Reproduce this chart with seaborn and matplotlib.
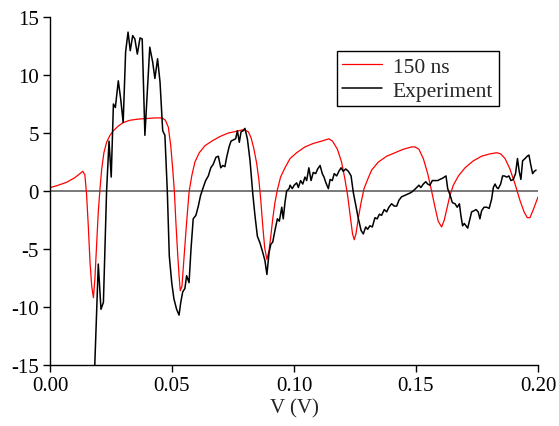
import matplotlib
matplotlib.use("Agg")
import matplotlib.pyplot as plt
import seaborn as sns
import pandas as pd

# ---- data ----
sim_label = "150 ns"
exp_label = "Experiment"
x_label = "V (V)"
x_ticks = [0.00, 0.05, 0.10, 0.15, 0.20]
x_tick_labels = ["0.00", "0.05", "0.10", "0.15", "0.20"]
y_ticks = [-15, -10, -5, 0, 5, 10, 15]
y_tick_labels = ["-15", "-10", "-5", "0", "5", "10", "15"]

sim_v = [0.0, 0.0002, 0.0027, 0.0068, 0.0102, 0.0123, 0.0134, 0.0143, 0.0150, 0.0157,
         0.0164, 0.0171, 0.0178, 0.0184, 0.0191, 0.0198, 0.0205, 0.0212, 0.0221, 0.0232,
         0.0246, 0.0260, 0.0280, 0.0300, 0.0328, 0.0362, 0.0396, 0.0430, 0.0460, 0.0473,
         0.0485, 0.0495, 0.0503, 0.0510, 0.0516, 0.0523, 0.0529, 0.0534, 0.0541, 0.0546,
         0.0553, 0.0560, 0.0570, 0.0581, 0.0594, 0.0612, 0.0635, 0.0663, 0.0697, 0.0731,
         0.0765, 0.0795, 0.0813, 0.0824, 0.0835, 0.0847, 0.0856, 0.0864, 0.0872, 0.0880,
         0.0889, 0.0898, 0.0905, 0.0913, 0.0922, 0.0932, 0.0945, 0.0963, 0.0984, 0.1011,
         0.1045, 0.1079, 0.1113, 0.1143, 0.1158, 0.1178, 0.1195, 0.1209, 0.1220, 0.1232,
         0.1240, 0.1247, 0.1254, 0.1264, 0.1275, 0.1287, 0.1302, 0.1318, 0.1346, 0.1380,
         0.1414, 0.1448, 0.1482, 0.1496, 0.1512, 0.1530, 0.1548, 0.1564, 0.1578, 0.1591,
         0.1605, 0.1616, 0.1628, 0.1639, 0.1653, 0.1674, 0.1701, 0.1735, 0.1769, 0.1803,
         0.1831, 0.1847, 0.1865, 0.1885, 0.1906, 0.1926, 0.1943, 0.1956, 0.1967, 0.1981,
         0.1995, 0.2001]
sim_i = [0.15, 0.3, 0.45, 0.75, 1.15, 1.5, 1.7, 1.4, -0.3, -3.0,
         -6.1, -8.2, -9.2, -7.6, -4.7, -1.8, 0.2, 1.9, 3.3, 4.2,
         4.8, 5.2, 5.6, 5.9, 6.1, 6.2, 6.25, 6.3, 6.3, 6.1,
         5.5, 3.9, 1.9, -0.1, -2.7, -5.3, -7.3, -8.6, -8.2, -6.7,
         -4.7, -2.7, -0.1, 1.3, 2.5, 3.3, 3.9, 4.3, 4.7, 5.0,
         5.15, 5.3, 5.1, 4.6, 3.7, 2.4, 1.0, -0.8, -3.0, -4.9,
         -5.9, -5.1, -3.9, -2.4, -1.0, 0.1, 1.2, 2.0, 2.8, 3.3,
         3.8, 4.1, 4.3, 4.5, 4.3, 3.6, 2.5, 1.0, -0.4, -2.4,
         -3.7, -4.2, -3.7, -2.3, -1.0, 0.2, 1.0, 1.8, 2.5, 3.0,
         3.3, 3.6, 3.8, 3.8, 3.6, 2.8, 1.5, 0.0, -1.4, -2.6,
         -3.1, -2.5, -1.4, -0.4, 0.5, 1.3, 2.0, 2.6, 3.0, 3.2,
         3.3, 3.2, 2.8, 1.9, 0.6, -0.8, -1.8, -2.3, -2.3, -1.6,
         -0.8, -0.5]

exp_v = [0.0182, 0.0198, 0.0209, 0.0219, 0.0232, 0.0242, 0.0251, 0.0260, 0.0268, 0.0280,
         0.0290, 0.0300, 0.0310, 0.0320, 0.0329, 0.0339, 0.0348, 0.0358, 0.0369, 0.0378,
         0.0389, 0.0409, 0.0421, 0.0430, 0.0441, 0.0451, 0.0462, 0.0471, 0.0481, 0.0489,
         0.0499, 0.0508, 0.0519, 0.0529, 0.0536, 0.0544, 0.0553, 0.0560, 0.0570, 0.0578,
         0.0587, 0.0598, 0.0608, 0.0617, 0.0628, 0.0638, 0.0649, 0.0659, 0.0669, 0.0680,
         0.0690, 0.0700, 0.0708, 0.0717, 0.0724, 0.0734, 0.0742, 0.0751, 0.0761, 0.0768,
         0.0776, 0.0783, 0.0792, 0.0799, 0.0809, 0.0820, 0.0831, 0.0840, 0.0850, 0.0861,
         0.0872, 0.0881, 0.0889, 0.0898, 0.0905, 0.0913, 0.0922, 0.0932, 0.0940, 0.0950,
         0.0956, 0.0963, 0.0970, 0.0980, 0.0984, 0.0993, 0.1001, 0.1011, 0.1018, 0.1027,
         0.1036, 0.1045, 0.1052, 0.1061, 0.1070, 0.1079, 0.1089, 0.1097, 0.1107, 0.1116,
         0.1123, 0.1131, 0.1141, 0.1148, 0.1157, 0.1165, 0.1175, 0.1184, 0.1193, 0.1202,
         0.1212, 0.1223, 0.1234, 0.1243, 0.1254, 0.1264, 0.1275, 0.1284, 0.1294, 0.1302,
         0.1311, 0.1321, 0.1332, 0.1341, 0.1350, 0.1359, 0.1370, 0.1380, 0.1389, 0.1400,
         0.1411, 0.1421, 0.1430, 0.1441, 0.1452, 0.1462, 0.1473, 0.1482, 0.1493, 0.1503,
         0.1512, 0.1520, 0.1530, 0.1540, 0.1548, 0.1557, 0.1567, 0.1578, 0.1589, 0.1598,
         0.1609, 0.1623, 0.1630, 0.1639, 0.1649, 0.1660, 0.1669, 0.1678, 0.1684, 0.1691,
         0.1698, 0.1705, 0.1712, 0.1719, 0.1728, 0.1738, 0.1746, 0.1755, 0.1762, 0.1769,
         0.1779, 0.1790, 0.1800, 0.1810, 0.1817, 0.1824, 0.1831, 0.1837, 0.1847, 0.1855,
         0.1862, 0.1872, 0.1881, 0.1889, 0.1899, 0.1908, 0.1916, 0.1923, 0.1930, 0.1937,
         0.1947, 0.1956, 0.1963, 0.1970, 0.1978, 0.1985, 0.1992]
exp_i = [-16.0, -6.3, -10.2, -9.6, 0.0, 4.3, 1.2, 7.5, 7.2, 9.5,
         7.9, 5.9, 12.0, 13.7, 12.1, 13.4, 13.1, 11.8, 13.2, 13.1,
         4.8, 12.4, 11.1, 9.7, 11.4, 9.4, 5.2, 4.8, -0.1, -5.6,
         -7.9, -9.3, -10.2, -10.7, -9.6, -8.7, -8.4, -7.3, -7.9, -5.0,
         -2.4, -2.1, -1.3, -0.4, 0.3, 0.9, 1.3, 2.0, 2.3, 2.9,
         3.0, 2.0, 2.2, 2.1, 2.9, 3.8, 4.3, 4.4, 4.5, 5.2,
         4.2, 5.1, 5.2, 5.4, 4.5, 2.6, -0.2, -2.1, -3.9, -4.5,
         -5.3, -6.0, -7.2, -5.3, -4.6, -4.4, -3.4, -2.4, -2.6, -1.4,
         -2.4, -1.0, 0.0, 0.2, 0.5, 0.2, 0.5, 0.7, 0.3, 0.9,
         0.6, 1.2, 0.9, 2.0, 0.9, 1.6, 1.5, 1.9, 2.2, 1.5,
         1.2, 0.7, 0.2, 1.0, 0.9, 1.5, 1.3, 1.7, 2.0, 1.7,
         1.9, 1.7, 1.3, -0.1, -1.3, -2.4, -3.4, -3.7, -3.1, -3.3,
         -3.0, -3.1, -2.3, -2.4, -2.0, -2.1, -1.6, -1.8, -1.4, -1.1,
         -1.3, -1.3, -0.8, -0.5, -0.4, -0.3, -0.2, -0.1, 0.1, 0.3,
         0.5, 0.3, 0.6, 0.8, 0.6, 0.5, 0.9, 0.9, 0.9, 1.0,
         1.1, 1.3, 0.2, -0.3, -1.0, -1.1, -1.4, -1.1, -2.1, -3.0,
         -2.8, -3.0, -3.2, -2.6, -1.8, -1.7, -1.6, -1.8, -2.4, -1.7,
         -1.4, -1.4, -1.5, -0.7, 0.3, 0.6, 0.3, 0.2, 0.6, 1.3,
         1.3, 1.2, 1.3, 0.9, 1.0, 1.5, 2.8, 1.7, 1.0, 2.6,
         2.8, 3.0, 3.1, 2.3, 1.5, 1.7, 1.8]

sim_df = pd.DataFrame({"V": sim_v, "I": sim_i})
exp_df = pd.DataFrame({"V": exp_v, "I": exp_i})

# ---- style ----
sns.set_style("ticks")
plt.rcParams["font.family"] = ["Liberation Serif", "DejaVu Serif"]
plt.rcParams["font.size"] = 15

fig = plt.figure(figsize=(5.59, 4.27), dpi=100)
ax = fig.add_axes([0.0894, 0.1429, 0.8730, 0.8149])

ax.axhline(0, color="#555555", lw=1.1, zorder=1.5)
sns.lineplot(data=sim_df, x="V", y="I", ax=ax, color="#ff0000", lw=0.9,
             label=sim_label, estimator=None, sort=False, zorder=2)
sns.lineplot(data=exp_df, x="V", y="I", ax=ax, color="black", lw=1.1,
             label=exp_label, estimator=None, sort=False, zorder=3)

ax.set_xlim(0, 0.2)
ax.set_ylim(-15, 15)
ax.set_xticks(x_ticks)
ax.set_xticklabels(x_tick_labels)
ax.set_yticks(y_ticks)
ax.set_yticklabels(y_tick_labels)
ax.set_xlabel(x_label, fontsize=15, labelpad=2)
ax.set_ylabel("")
ax.tick_params(axis="both", direction="out", length=5, width=1, labelsize=15,
               color="black", labelcolor="black", pad=3)
for side in ["top", "right"]:
    ax.spines[side].set_visible(False)
for side in ["left", "bottom"]:
    ax.spines[side].set_color("black")
    ax.spines[side].set_linewidth(1)

leg = ax.legend(loc="upper left", bbox_to_anchor=(0.588, 0.902), frameon=True,
                fancybox=False, edgecolor="black", framealpha=1, fontsize=15.5,
                handlelength=1.85, handletextpad=0.5, labelspacing=0.2,
                borderpad=0.25, borderaxespad=0)
leg.get_frame().set_linewidth(1)

fig.savefig("out.png", dpi=100)
